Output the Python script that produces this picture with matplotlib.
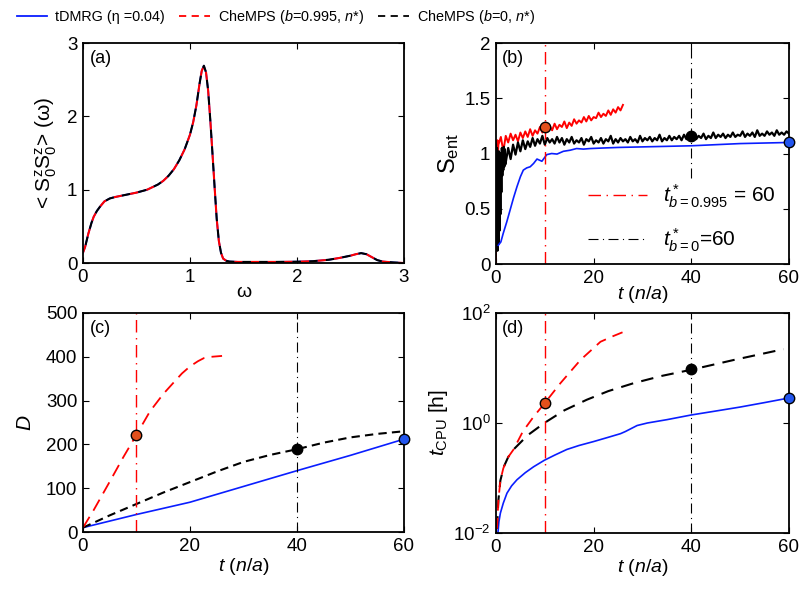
import numpy as np
import matplotlib
matplotlib.use('Agg')
import matplotlib.pyplot as plt
from matplotlib.lines import Line2D

plt.rcParams['font.family'] = ['Liberation Sans', 'DejaVu Sans']
plt.rcParams['mathtext.fontset'] = 'custom'
plt.rcParams['mathtext.rm'] = 'Liberation Sans'
plt.rcParams['mathtext.it'] = 'Liberation Sans:italic'
plt.rcParams['mathtext.bf'] = 'Liberation Sans:bold'
plt.rcParams['font.size'] = 12.5

# ---- (a) spectral function
w = [0, 0.02, 0.05, 0.08, 0.1, 0.13, 0.16, 0.2, 0.25, 0.3,
     0.4, 0.5, 0.6, 0.7, 0.75, 0.8, 0.85, 0.9, 0.95, 1.0, 1.03,
     1.06, 1.09, 1.11, 1.13, 1.15, 1.17, 1.19, 1.21, 1.23, 1.25,
     1.27, 1.29, 1.31, 1.34, 1.37, 1.45, 1.6, 1.8, 2.0, 2.15,
     2.3, 2.4, 2.5, 2.55, 2.6, 2.65, 2.7, 2.75, 2.8, 2.9, 3.0]
spec = [0.14, 0.22, 0.4, 0.55, 0.63, 0.71, 0.77, 0.84, 0.88, 0.9,
        0.93, 0.96, 1.0, 1.07, 1.12, 1.19, 1.28, 1.40, 1.55, 1.75, 1.92,
        2.15, 2.45, 2.62, 2.69, 2.6, 2.35, 1.95, 1.5, 1.04, 0.6,
        0.3, 0.14, 0.06, 0.03, 0.02, 0.015, 0.015, 0.015, 0.018, 0.025,
        0.045, 0.07, 0.1, 0.12, 0.135, 0.12, 0.08, 0.04, 0.02, 0.008, 0.0]

# ---- (b) entanglement entropy
t_blue_s = [0.48, 1.0, 1.5, 2.2, 2.9, 3.6, 4.3, 5.0, 5.6, 6.3, 7.0, 7.7, 8.4, 9.4,
            10.4, 11.4, 12.5, 13.8, 15.2, 16.5, 17.9, 19.3, 22, 25, 30, 35, 40,
            45, 50, 55, 60]
s_blue = [0.17, 0.2, 0.28, 0.38, 0.49, 0.6, 0.70, 0.79, 0.85, 0.87, 0.88, 0.91,
          0.95, 0.93, 0.99, 1.00, 0.995, 1.02, 1.03, 1.045, 1.04, 1.045, 1.05,
          1.055, 1.06, 1.065, 1.07, 1.08, 1.09, 1.095, 1.10]

t_red_s_early = [0.0, 0.1, 0.2, 0.3, 0.4]
s_red_early = [0.0, 1.1, 0.9, 1.12, 1.0]
s_red = [1.08, 1.15, 1.02, 1.16, 1.10, 1.18, 1.12, 1.17, 1.11, 1.19,
         1.14, 1.20, 1.15, 1.22, 1.16, 1.21, 1.18, 1.24, 1.19, 1.23,
         1.20, 1.25, 1.21, 1.27, 1.22, 1.26, 1.24, 1.29, 1.23, 1.28,
         1.25, 1.31, 1.27, 1.30, 1.28, 1.33, 1.29, 1.34, 1.30, 1.33,
         1.32, 1.37, 1.33, 1.36, 1.34, 1.39, 1.35, 1.40, 1.37, 1.42,
         1.39, 1.44]

s_black_early = [1.08, 0.25, 1.05, 0.12, 0.95, 0.18, 1.02, 0.30, 0.90, 0.45,
                 1.00, 0.65, 1.05, 0.80, 0.98, 0.85, 1.06, 0.88, 1.04, 0.90]
s_black = [0.92, 1.05, 0.95, 1.08, 0.99, 1.10, 1.02, 1.12, 1.04, 1.11,
           1.06, 1.14, 1.07, 1.13, 1.09, 1.16, 1.08, 1.14, 1.10, 1.13,
           1.09, 1.15, 1.10, 1.14, 1.08, 1.13, 1.10, 1.15, 1.09, 1.12,
           1.10, 1.14, 1.08, 1.13, 1.11, 1.15, 1.09, 1.12, 1.10, 1.14,
           1.09, 1.13, 1.11, 1.16, 1.09, 1.13, 1.10, 1.14, 1.11, 1.13,
           1.10, 1.15, 1.11, 1.13, 1.10, 1.16, 1.11, 1.14, 1.12, 1.15,
           1.11, 1.14, 1.12, 1.17, 1.11, 1.14, 1.12, 1.16, 1.12, 1.15,
           1.13, 1.16, 1.12, 1.17, 1.13, 1.16, 1.14, 1.17, 1.13, 1.16,
           1.14, 1.18, 1.13, 1.16, 1.14, 1.19, 1.14, 1.17, 1.15, 1.18,
           1.14, 1.17, 1.15, 1.19, 1.15, 1.17, 1.16, 1.20, 1.15, 1.18,
           1.16, 1.19, 1.15, 1.21, 1.16, 1.18, 1.16, 1.20, 1.17, 1.19,
           1.16, 1.21, 1.17, 1.19, 1.17, 1.20, 1.18]

t_red_s = np.concatenate([t_red_s_early, np.arange(0.5, 26.01, 0.5)])
s_red_all = np.concatenate([s_red_early, s_red])
t_black_s = np.concatenate([np.arange(0.0, 1.95, 0.1), np.arange(2.0, 60.01, 0.5)])
s_black_all = np.concatenate([s_black_early, s_black])

# ---- (c) bond dimension
t_red_d = [0, 2, 5, 7.5, 10, 12.5, 15, 17, 18.5, 20, 21.5, 22.6, 24, 26]
d_red = [10, 50, 115, 170, 222, 275, 315, 342, 362, 378, 390, 397, 400, 402]
t_black_d = [0, 5, 10, 15, 20, 25, 30, 35, 40, 45, 50, 55, 60]
d_black = [10, 38, 64, 90, 114, 138, 160, 176, 189, 204, 216, 224, 230]
t_blue_d = [0, 5, 10, 15, 20, 30, 40, 50, 60]
d_blue = [10, 25, 40, 54, 68, 104, 140, 175, 212]

# ---- (d) CPU time
t_red_c = [0.2, 0.5, 0.9, 1.5, 2.5, 3.6, 5.5, 7.7, 9.9, 13.2, 17.3, 21.4, 24.0, 26.8]
c_red = [0.012, 0.04, 0.09, 0.15, 0.24, 0.33, 0.7, 1.3, 2.25, 5.3, 14, 30, 38, 48]
t_black_c = [0.2, 0.5, 0.9, 1.6, 2.5, 3.6, 6.5, 9.9, 14, 18.6, 23, 28.2, 34, 40, 48.7, 58.9]
c_black = [0.012, 0.04, 0.09, 0.16, 0.24, 0.33, 0.6, 1.0, 1.7, 2.65, 3.8, 5.3, 7.2, 9.3, 14, 22]
t_blue_c = [0.4, 0.6, 0.9, 1.5, 2.25, 3.2, 4.3, 6, 7.7, 9.9, 12, 14.5, 17, 20,
            23, 25.5, 26.5, 28.9, 31, 35, 40, 45, 50, 55, 60]
c_blue = [0.01, 0.016, 0.023, 0.035, 0.053, 0.072, 0.093, 0.125, 0.16, 0.21, 0.26,
          0.33, 0.39, 0.46, 0.55, 0.64, 0.7, 0.9, 1.0, 1.15, 1.4, 1.65, 1.95, 2.35, 2.85]

# markers: (t, value) for each simulation
mark_red = {'b': (10, 1.24), 'c': (10, 222), 'd': (10, 2.3)}
mark_black = {'b': (40, 1.155), 'c': (40, 190), 'd': (40, 9.5)}
mark_blue = {'b': (60, 1.10), 'c': (60, 212), 'd': (60, 2.85)}

t_star_red = 10
t_star_black = 40

BLUE = '#0a1eff'
RED = '#ff0000'
ORANGE = '#e2501c'
MBLUE = '#2255ee'

fig = plt.figure(figsize=(8.01, 5.90), dpi=100)
ax_a = fig.add_axes([0.1036, 0.5542, 0.4007, 0.3729])
ax_b = fig.add_axes([0.6192, 0.5525, 0.3658, 0.3746])
ax_c = fig.add_axes([0.1036, 0.0983, 0.4007, 0.3712])
ax_d = fig.add_axes([0.6192, 0.0966, 0.3658, 0.3729])

for ax in (ax_a, ax_b, ax_c, ax_d):
    ax.tick_params(direction='in', top=True, right=True, length=4, width=0.8,
                   labelsize=13.5, pad=4)
    for sp in ax.spines.values():
        sp.set_linewidth(1.3)

dash_dot = (0, (9, 4, 1, 4))

# (a)
ax_a.plot(w, spec, color=BLUE, lw=1.3)
ax_a.plot(w, spec, color=RED, lw=1.5, ls=(0, (4, 4)))
ax_a.plot(w, spec, color='k', lw=1.5, ls=(4, (4, 4)))
ax_a.set_xlim(0, 3)
ax_a.set_ylim(0, 3)
ax_a.set_xticks([0, 1, 2, 3])
ax_a.set_yticks([0, 1, 2, 3])
ax_a.set_xlabel('ω', fontsize=14, labelpad=-1)
ax_a.set_ylabel(r'< S$_{\mathit{0}}^{\mathrm{z}}$S$_{\mathit{0}}^{\mathrm{z}}$> (ω)', fontsize=15, labelpad=6)
ax_a.text(0.02, 0.97, '(a)', transform=ax_a.transAxes, va='top', fontsize=13)

# (b)
ax_b.plot(t_red_s, s_red_all, color=RED, lw=1.4)
ax_b.plot(t_black_s, s_black_all, color='k', lw=1.6)
ax_b.plot(t_blue_s, s_blue, color=BLUE, lw=1.2)
ax_b.plot([t_star_red, t_star_red], [0, 2], color=RED, lw=1.0, ls=dash_dot)
ax_b.plot([t_star_black, t_star_black], [0.78, 2], color='k', lw=0.8, ls=dash_dot)
ax_b.plot(*mark_red['b'], 'o', ms=7.5, mfc=ORANGE, mec='k', mew=1, clip_on=False)
ax_b.plot(*mark_black['b'], 'o', ms=7.5, mfc='k', mec='k', mew=1, clip_on=False)
ax_b.plot(*mark_blue['b'], 'o', ms=7.5, mfc=MBLUE, mec='k', mew=1, clip_on=False, zorder=5)
ax_b.set_xlim(0, 60)
ax_b.set_ylim(0, 2)
ax_b.set_xticks([0, 20, 40, 60])
ax_b.set_yticks([0, 0.5, 1, 1.5, 2])
ax_b.set_yticklabels(['0', '0.5', '1', '1.5', '2'])
ax_b.set_xlabel(r'$t$ ($n/a$)', fontsize=14, labelpad=-2)
ax_b.set_ylabel(r'S$_{\mathrm{ent}}$', fontsize=17, labelpad=2)
ax_b.text(0.02, 0.97, '(b)', transform=ax_b.transAxes, va='top', fontsize=13)
h1 = Line2D([], [], color=RED, lw=1.0, ls=dash_dot)
h2 = Line2D([], [], color='k', lw=0.8, ls=dash_dot)
ax_b.legend([h1, h2], [r'$t^*_{b=0.995}$ = 60', r'$t^*_{b=0}$=60'],
            loc='lower right', bbox_to_anchor=(1.02, -0.04), frameon=False,
            fontsize=15, handlelength=2.8, labelspacing=0.8, handletextpad=0.8)

# (c)
ax_c.plot(t_blue_d, d_blue, color=BLUE, lw=1.2)
ax_c.plot(t_black_d, d_black, color='k', lw=1.5, ls=(0, (4, 2.5)))
ax_c.plot(t_red_d, d_red, color=RED, lw=1.3, ls=(0, (7, 4)))
ax_c.plot([t_star_red] * 2, [0, 500], color=RED, lw=1.0, ls=dash_dot)
ax_c.plot([t_star_black] * 2, [0, 500], color='k', lw=0.8, ls=dash_dot)
ax_c.plot(*mark_red['c'], 'o', ms=7.5, mfc=ORANGE, mec='k', mew=1, clip_on=False)
ax_c.plot(*mark_black['c'], 'o', ms=7.5, mfc='k', mec='k', mew=1, clip_on=False)
ax_c.plot(*mark_blue['c'], 'o', ms=7.5, mfc=MBLUE, mec='k', mew=1, clip_on=False, zorder=5)
ax_c.set_xlim(0, 60)
ax_c.set_ylim(0, 500)
ax_c.set_xticks([0, 20, 40, 60])
ax_c.set_yticks([0, 100, 200, 300, 400, 500])
ax_c.set_xlabel(r'$t$ ($n/a$)', fontsize=14, labelpad=1)
ax_c.set_ylabel(r'$D$', fontsize=15, labelpad=8)
ax_c.text(0.02, 0.97, '(c)', transform=ax_c.transAxes, va='top', fontsize=13)

# (d)
ax_d.set_yscale('log')
ax_d.plot(t_blue_c, c_blue, color=BLUE, lw=1.2)
ax_d.plot(t_black_c, c_black, color='k', lw=1.5, ls=(0, (6, 4)))
ax_d.plot(t_red_c, c_red, color=RED, lw=1.3, ls=(0, (6, 4)))
ax_d.plot([t_star_red] * 2, [1e-2, 1e2], color=RED, lw=1.0, ls=dash_dot)
ax_d.plot([t_star_black] * 2, [1e-2, 1e2], color='k', lw=0.8, ls=dash_dot)
ax_d.plot(*mark_red['d'], 'o', ms=7.5, mfc=ORANGE, mec='k', mew=1, clip_on=False)
ax_d.plot(*mark_black['d'], 'o', ms=7.5, mfc='k', mec='k', mew=1, clip_on=False)
ax_d.plot(*mark_blue['d'], 'o', ms=7.5, mfc=MBLUE, mec='k', mew=1, clip_on=False, zorder=5)
ax_d.set_xlim(0, 60)
ax_d.set_ylim(1e-2, 1e2)
ax_d.set_xticks([0, 20, 40, 60])
ax_d.set_yticks([1e-2, 1e0, 1e2])
ax_d.set_yticklabels([r'10$^{-2}$', r'10$^{0}$', r'10$^{2}$'])
ax_d.minorticks_off()
ax_d.set_xlabel(r'$t$ ($n/a$)', fontsize=14, labelpad=1)
ax_d.set_ylabel(r'$t_{\mathrm{CPU}}$ [h]', fontsize=15, labelpad=2)
ax_d.text(0.02, 0.97, '(d)', transform=ax_d.transAxes, va='top', fontsize=13)

# top legend
hl = [Line2D([], [], color=BLUE, lw=1.3),
      Line2D([], [], color=RED, lw=1.3, ls=(0, (4, 3))),
      Line2D([], [], color='k', lw=1.3, ls=(0, (4, 3)))]
fig.legend(hl, ['tDMRG (η =0.04)', r'CheMPS ($b$=0.995, $n$*)', r'CheMPS ($b$=0, $n$*)'],
           loc='center left', bbox_to_anchor=(0.005, 0.971), ncol=3, frameon=False,
           fontsize=10.4, handlelength=2.1, handletextpad=0.55, columnspacing=1.0)

fig.savefig('out.png', dpi=100)
